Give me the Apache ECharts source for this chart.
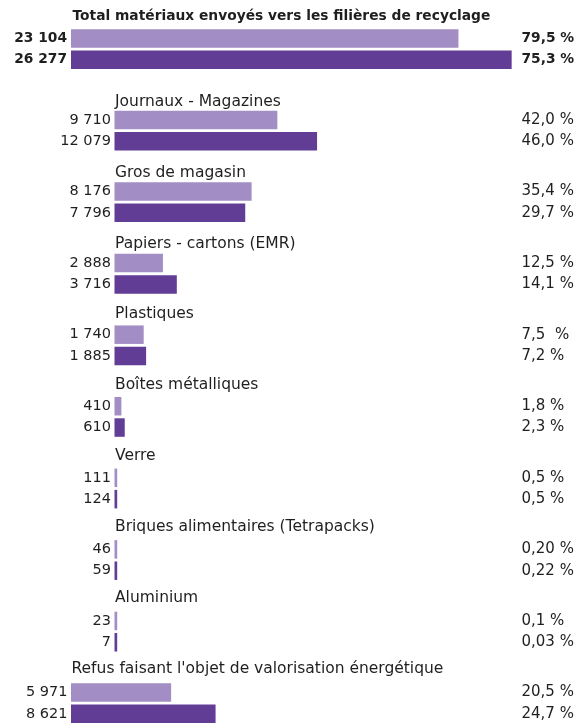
<!DOCTYPE html>
<html>
<head>
<meta charset="utf-8">
<script src="https://cdn.jsdelivr.net/npm/echarts@6/dist/echarts.min.js"></script>
<style>
  html, body { margin: 0; padding: 0; background: #ffffff; }
  #chart { width: 585px; height: 725px; }
</style>
</head>
<body>
<div id="chart"></div>
<script>
// Tonnages sent to each recycling stream, two years (light = earlier, dark = later)
const groupNames = [
  'Total matériaux envoyés vers les filières de recyclage',
  'Journaux - Magazines',
  'Gros de magasin',
  'Papiers - cartons (EMR)',
  'Plastiques',
  'Boîtes métalliques',
  'Verre',
  'Briques alimentaires (Tetrapacks)',
  'Aluminium',
  "Refus faisant l'objet de valorisation énergétique"
];
const tonnesLight = [23104, 9710, 8176, 2888, 1740, 410, 111, 46, 23, 5971];
const tonnesDark  = [26277, 12079, 7796, 3716, 1885, 610, 124, 59, 7, 8621];
const shareLight = ['79,5 %', '42,0 %', '35,4 %', '12,5 %', '7,5  %', '1,8 %', '0,5 %', '0,20 %', '0,1 %', '20,5 %'];
const shareDark  = ['75,3 %', '46,0 %', '29,7 %', '14,1 %', '7,2 %', '2,3 %', '0,5 %', '0,22 %', '0,03 %', '24,7 %'];

// Layout
const LIGHT = '#a28ec4';
const DARK = '#623d96';
const TEXT = '#1f1f1f';
const FONT = '"DejaVu Sans", "Open Sans", sans-serif';
const NAME_SIZE = 15.5;
const VALUE_SIZE = 14.5;
const SHARE_SIZE = 15;
const BOLD_SIZE = 13.8;
const PX_PER_T = 0.01677;      // common horizontal scale for every group
const RIGHT_EDGE = 512;        // right end of every value axis
const BAR_W = 18.5;
const BAND = 21.3;
const OUTER_LEFT = 71;         // total and refuse rows
const INNER_LEFT = 114.5;      // individual materials

function isOuter(i) { return i === 0 || i === groupNames.length - 1; }
function lightTopOf(i) { return i === 0 ? 29.3 : 110.7 + 71.575 * (i - 1); }
function nameYOf(i) { return i === 0 ? 16.8 : 101.7 + 70.9 * (i - 1); }
function fmt(v) { return String(v).replace(/\B(?=(\d{3})+(?!\d))/g, '\u00a0'); }

const grids = [], xAxes = [], yAxes = [], series = [], graphics = [];

groupNames.forEach(function (name, i) {
  const left = isOuter(i) ? OUTER_LEFT : INNER_LEFT;
  const width = RIGHT_EDGE - left;
  const top = lightTopOf(i) - (BAND - BAR_W) / 2;
  const bold = i === 0;
  const weight = bold ? 'bold' : 'normal';

  grids.push({ left: left, top: top, width: width, height: BAND * 2 });

  xAxes.push({
    type: 'value', gridIndex: i, min: 0, max: width / PX_PER_T,
    show: false, splitLine: { show: false }
  });

  yAxes.push({
    type: 'category', gridIndex: i, inverse: true, data: ['a', 'b'], show: false
  });
  yAxes.push({
    type: 'category', gridIndex: i, inverse: true, position: 'right',
    data: [shareLight[i], shareDark[i]],
    axisLine: { show: false }, axisTick: { show: false }, splitLine: { show: false },
    axisLabel: {
      margin: 9.5, color: TEXT, fontFamily: FONT, fontWeight: weight,
      fontSize: bold ? BOLD_SIZE : SHARE_SIZE
    }
  });

  series.push({
    type: 'bar',
    xAxisIndex: i,
    yAxisIndex: 2 * i,
    barWidth: BAR_W,
    barMinHeight: 2.7,
    silent: true,
    animation: false,
    data: [
      { value: tonnesLight[i], itemStyle: { color: LIGHT } },
      { value: tonnesDark[i], itemStyle: { color: DARK } }
    ],
    label: {
      show: true, position: 'left', distance: bold ? 4 : 3.5,
      color: TEXT, fontFamily: FONT, fontWeight: weight,
      fontSize: bold ? BOLD_SIZE : VALUE_SIZE,
      formatter: function (p) { return fmt(p.value); }
    }
  });

  graphics.push({
    type: 'text',
    x: left + (bold ? 1.5 : 0.5),
    y: nameYOf(i),
    silent: true,
    style: {
      text: name, fill: TEXT, fontFamily: FONT, fontWeight: weight,
      fontSize: bold ? BOLD_SIZE : NAME_SIZE,
      align: 'left', verticalAlign: 'middle'
    }
  });
});

const chart = echarts.init(document.getElementById('chart'), null, { renderer: 'canvas' });
chart.setOption({
  animation: false,
  backgroundColor: '#ffffff',
  grid: grids,
  xAxis: xAxes,
  yAxis: yAxes,
  series: series,
  graphic: graphics
});
</script>
</body>
</html>
